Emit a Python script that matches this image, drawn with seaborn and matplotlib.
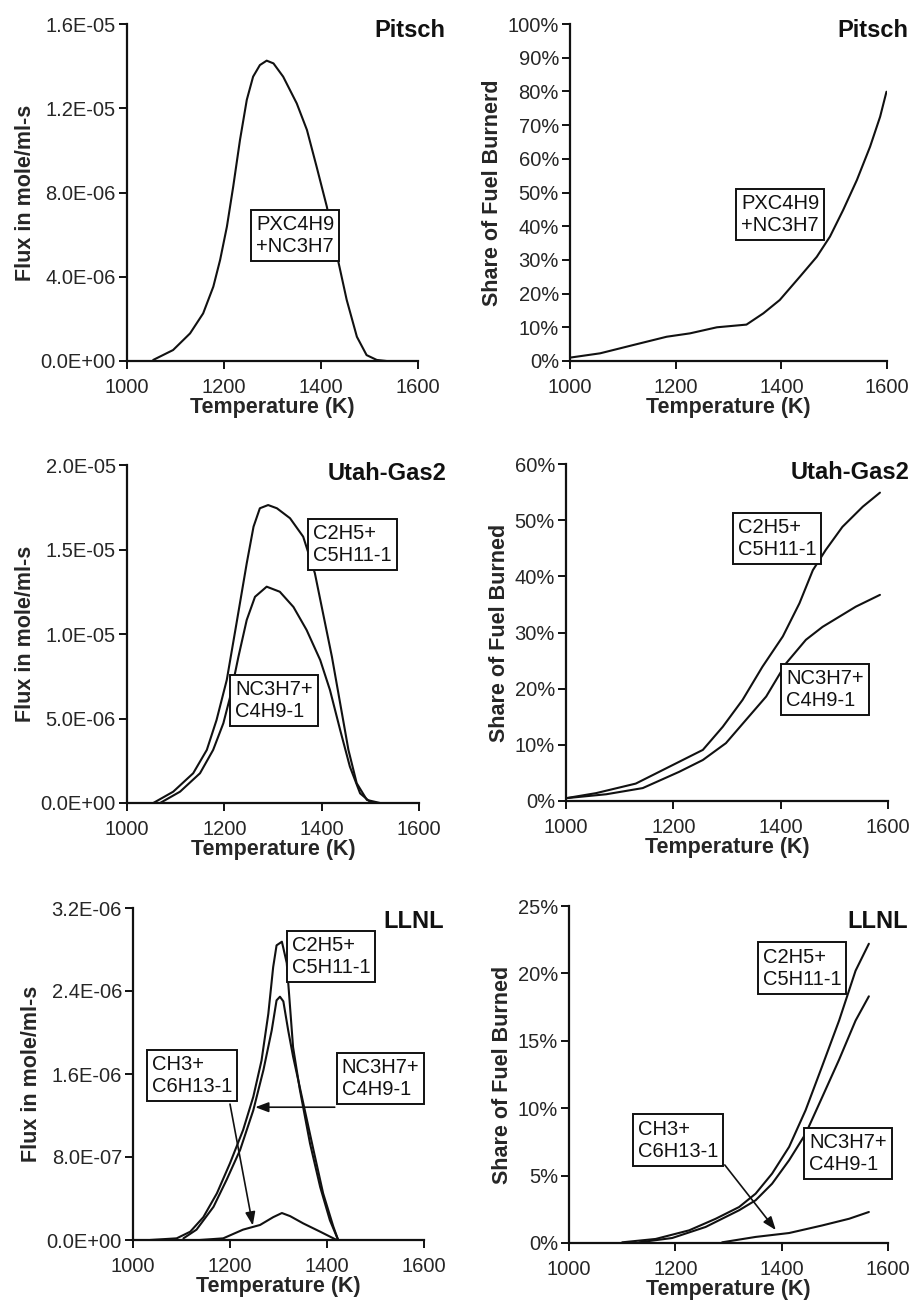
import matplotlib
matplotlib.use("Agg")
import matplotlib.pyplot as plt
import seaborn as sns
import pandas as pd
from matplotlib.ticker import FuncFormatter, PercentFormatter, FixedLocator

sns.set_style("ticks")
plt.rcParams['font.family'] = ['Liberation Sans', 'DejaVu Sans']

# ---------------- data ----------------
# Pitsch flux
p_flux_T = [1054, 1095, 1130, 1157, 1178, 1192, 1206, 1219, 1233, 1247, 1260, 1274, 1288, 1302, 1322, 1350, 1371, 1391, 1412, 1432, 1453, 1474, 1494, 1515, 1535]
p_flux_v = [0.05e-6, 0.52e-6, 1.31e-6, 2.26e-6, 3.53e-6, 4.8e-6, 6.38e-6, 8.28e-6, 10.5e-6, 12.4e-6, 13.5e-6, 14.05e-6, 14.26e-6, 14.13e-6, 13.5e-6, 12.23e-6, 10.97e-6, 9.22e-6, 7.33e-6, 5.11e-6, 2.9e-6, 1.15e-6, 0.28e-6, 0.05e-6, 0.0]
# Pitsch share (%)
p_share_T = [1000, 1057, 1120, 1183, 1227, 1278, 1334, 1366, 1397, 1435, 1467, 1492, 1517, 1543, 1568, 1587, 1599]
p_share_v = [1.0, 2.28, 4.75, 7.2, 8.2, 10.0, 10.8, 14.15, 18.1, 25.0, 30.9, 36.9, 44.8, 53.7, 63.6, 72.5, 79.9]

# Utah-Gas2 flux
u_c2_T = [1054, 1095, 1136, 1164, 1184, 1205, 1225, 1246, 1260, 1273, 1290, 1308, 1335, 1362, 1386, 1403, 1421, 1438, 1455, 1472, 1493, 1520]
u_c2_v = [0.0, 0.67e-6, 1.76e-6, 3.14e-6, 4.91e-6, 7.28e-6, 10.63e-6, 14.18e-6, 16.35e-6, 17.44e-6, 17.63e-6, 17.44e-6, 16.85e-6, 15.76e-6, 13.6e-6, 11.2e-6, 8.66e-6, 5.9e-6, 3.14e-6, 1.17e-6, 0.18e-6, 0.0]
u_nc_T = [1068, 1109, 1150, 1177, 1198, 1212, 1229, 1246, 1263, 1287, 1314, 1342, 1369, 1397, 1417, 1438, 1458, 1479, 1499, 1513]
u_nc_v = [0.0, 0.67e-6, 1.76e-6, 3.14e-6, 4.72e-6, 6.29e-6, 8.66e-6, 10.83e-6, 12.2e-6, 12.8e-6, 12.5e-6, 11.6e-6, 10.24e-6, 8.46e-6, 6.69e-6, 4.32e-6, 2.15e-6, 0.57e-6, 0.08e-6, 0.0]
# Utah-Gas2 share (%)
us_c2_T = [1000, 1056, 1130, 1205, 1255, 1292, 1329, 1366, 1404, 1435, 1460, 1484, 1515, 1553, 1585]
us_c2_v = [0.5, 1.4, 3.1, 6.7, 9.1, 13.2, 18.0, 23.9, 29.3, 35.2, 41.1, 44.7, 48.8, 52.4, 54.9]
us_nc_T = [1000, 1075, 1143, 1211, 1255, 1298, 1335, 1373, 1410, 1447, 1478, 1509, 1540, 1585]
us_nc_v = [0.5, 1.2, 2.3, 5.2, 7.3, 10.3, 14.4, 18.6, 24.5, 28.7, 31.0, 32.8, 34.6, 36.7]

# LLNL flux
l_c2_T = [1035, 1090, 1118, 1145, 1173, 1200, 1227, 1248, 1265, 1279, 1289, 1296, 1307, 1317, 1330, 1344, 1365, 1386, 1406, 1423]
l_c2_v = [0.0, 0.016e-6, 0.08e-6, 0.22e-6, 0.45e-6, 0.74e-6, 1.06e-6, 1.38e-6, 1.73e-6, 2.18e-6, 2.63e-6, 2.84e-6, 2.875e-6, 2.67e-6, 1.86e-6, 1.45e-6, 0.93e-6, 0.51e-6, 0.19e-6, 0.0]
l_nc_T = [1104, 1131, 1166, 1193, 1221, 1248, 1269, 1286, 1296, 1303, 1310, 1320, 1330, 1351, 1372, 1392, 1413, 1423]
l_nc_v = [0.016e-6, 0.1e-6, 0.32e-6, 0.58e-6, 0.87e-6, 1.25e-6, 1.64e-6, 2.02e-6, 2.31e-6, 2.345e-6, 2.3e-6, 2.02e-6, 1.77e-6, 1.32e-6, 0.87e-6, 0.45e-6, 0.13e-6, 0.0]
l_ch_T = [1138, 1186, 1227, 1262, 1289, 1307, 1324, 1351, 1386, 1420]
l_ch_v = [0.0, 0.016e-6, 0.1e-6, 0.145e-6, 0.22e-6, 0.26e-6, 0.23e-6, 0.16e-6, 0.08e-6, 0.0]
# LLNL share (%)
ls_c2_T = [1100, 1163, 1226, 1276, 1320, 1351, 1382, 1414, 1445, 1476, 1508, 1539, 1564]
ls_c2_v = [0.05, 0.3, 0.94, 1.8, 2.67, 3.66, 5.15, 7.13, 9.85, 13.1, 16.5, 20.2, 22.2]
ls_nc_T = [1132, 1194, 1257, 1320, 1351, 1382, 1414, 1445, 1476, 1508, 1539, 1564]
ls_nc_v = [0.05, 0.37, 1.19, 2.43, 3.17, 4.4, 6.14, 8.1, 10.8, 13.6, 16.5, 18.3]
ls_ch_T = [1288, 1351, 1414, 1476, 1527, 1564]
ls_ch_v = [0.05, 0.45, 0.74, 1.3, 1.8, 2.3]

x_ticks = [1000, 1200, 1400, 1600]
titles = ["Pitsch", "Utah-Gas2", "LLNL"]
lab_pitsch = "PXC4H9\n+NC3H7"
lab_c2 = "C2H5+\nC5H11-1"
lab_nc = "NC3H7+\nC4H9-1"
lab_ch = "CH3+\nC6H13-1"

# ---------------- figure ----------------
fig = plt.figure(figsize=(9.12, 13.04), dpi=100)
W, H = 912, 1304

def make_ax(x0, x1, ytop, ybot):
    return fig.add_axes([x0 / W, 1 - ybot / H, (x1 - x0) / W, (ybot - ytop) / H])

axes = [
    [make_ax(127, 418, 24, 361), make_ax(570, 887, 24, 361)],
    [make_ax(127, 419, 465, 803), make_ax(566, 888, 464, 801)],
    [make_ax(133, 424, 908, 1240), make_ax(569, 888, 906, 1243)],
]

LW = 1.5
col = "#111111"
TICK_FS = 14.5
LAB_FS = 15.5
TITLE_FS = 17
ANN_FS = 14.5

def draw(ax, T, v):
    df = pd.DataFrame({"T": T, "v": v})
    sns.lineplot(data=df, x="T", y="v", ax=ax, color=col, lw=LW, estimator=None, sort=False)

sci = FuncFormatter(lambda v, p: f"{v:.1E}")

def style(ax, ymax, yticks, flux):
    ax.set_xlim(1000, 1600)
    ax.set_ylim(0, ymax)
    ax.xaxis.set_major_locator(FixedLocator(x_ticks))
    ax.yaxis.set_major_locator(FixedLocator(yticks))
    if flux:
        ax.yaxis.set_major_formatter(sci)
        ax.set_ylabel("Flux in mole/ml-s", fontsize=LAB_FS, fontweight="bold", labelpad=3)
    else:
        ax.yaxis.set_major_formatter(PercentFormatter(xmax=100, decimals=0))
    ax.set_xlabel("Temperature (K)", fontsize=LAB_FS, fontweight="bold", labelpad=0.5)
    for s in ["top", "right"]:
        ax.spines[s].set_visible(False)
    for s in ["left", "bottom"]:
        ax.spines[s].set_linewidth(1.6)
        ax.spines[s].set_color(col)
    ax.tick_params(axis="both", labelsize=TICK_FS, length=6, width=1.4, color=col, pad=2)
    ax.tick_params(axis="x", pad=6)
    ax.set_facecolor("white")

def box(ax, x, y, s):
    ax.text(x, y, s, fontsize=ANN_FS, ha="center", va="center", multialignment="left",
            color=col, linespacing=1.2,
            bbox=dict(boxstyle="square,pad=0.25", fc="white", ec=col, lw=1.4), zorder=5)

def title(ax, xf, yf, s):
    ax.text(xf, yf, s, transform=ax.transAxes, fontsize=TITLE_FS, fontweight="bold",
            ha="right", va="center", color=col, clip_on=False)

arrow = dict(arrowstyle="-|>,head_length=0.8,head_width=0.3", color=col, lw=1.2, shrinkA=0, shrinkB=0)

# Row 1 - Pitsch
ax = axes[0][0]
draw(ax, p_flux_T, p_flux_v)
style(ax, 1.6e-5, [0, 4e-6, 8e-6, 1.2e-5, 1.6e-5], True)
box(ax, 1347, 5.96e-6, lab_pitsch)
title(ax, 1.093, 0.982, titles[0])

ax = axes[0][1]
draw(ax, p_share_T, p_share_v)
style(ax, 100, list(range(0, 101, 10)), False)
ax.set_ylabel("Share of Fuel Burnerd", fontsize=LAB_FS, fontweight="bold", labelpad=3)
box(ax, 1398, 43.5, lab_pitsch)
title(ax, 1.069, 0.982, titles[0])

# Row 2 - Utah-Gas2
ax = axes[1][0]
draw(ax, u_c2_T, u_c2_v)
draw(ax, u_nc_T, u_nc_v)
style(ax, 2e-5, [0, 5e-6, 1e-5, 1.5e-5, 2e-5], True)
box(ax, 1463, 1.527e-5, lab_c2)
box(ax, 1302, 6.07e-6, lab_nc)
title(ax, 1.093, 0.976, titles[1])

ax = axes[1][1]
draw(ax, us_c2_T, us_c2_v)
draw(ax, us_nc_T, us_nc_v)
style(ax, 60, list(range(0, 61, 10)), False)
ax.set_ylabel("Share of Fuel Burned", fontsize=LAB_FS, fontweight="bold", labelpad=3)
box(ax, 1393, 46.7, lab_c2)
box(ax, 1483, 19.85, lab_nc)
title(ax, 1.066, 0.976, titles[1])

# Row 3 - LLNL
ax = axes[2][0]
draw(ax, l_c2_T, l_c2_v)
draw(ax, l_nc_T, l_nc_v)
draw(ax, l_ch_T, l_ch_v)
style(ax, 3.2e-6, [0, 8e-7, 1.6e-6, 2.4e-6, 3.2e-6], True)
box(ax, 1408, 2.737e-6, lab_c2)
box(ax, 1122, 1.59e-6, lab_ch)
box(ax, 1510, 1.557e-6, lab_nc)
ax.annotate("", xy=(1247, 0.14e-6), xytext=(1200, 1.31e-6), arrowprops=arrow, zorder=6)
ax.annotate("", xy=(1252, 1.28e-6), xytext=(1416, 1.28e-6), arrowprops=arrow, zorder=6)
title(ax, 1.07, 0.958, titles[2])

ax = axes[2][1]
draw(ax, ls_c2_T, ls_c2_v)
draw(ax, ls_nc_T, ls_nc_v)
draw(ax, ls_ch_T, ls_ch_v)
style(ax, 25, [0, 5, 10, 15, 20, 25], False)
ax.set_ylabel("Share of Fuel Burned", fontsize=LAB_FS, fontweight="bold", labelpad=3)
box(ax, 1438, 20.4, lab_c2)
box(ax, 1205, 7.64, lab_ch)
box(ax, 1525, 6.64, lab_nc)
ax.annotate("", xy=(1389, 0.96), xytext=(1293, 5.79), arrowprops=arrow, zorder=6)
title(ax, 1.063, 0.955, titles[2])

fig.savefig("out.png", dpi=100, facecolor="white")
